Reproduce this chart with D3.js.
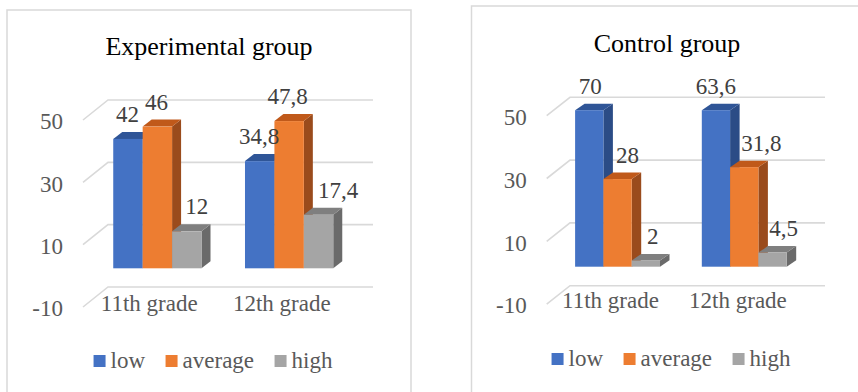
<!DOCTYPE html>
<html>
<head>
<meta charset="utf-8">
<script src="https://cdn.jsdelivr.net/npm/d3@7"></script>
<style>
  html, body { margin: 0; padding: 0; background: #ffffff; }
  svg { display: block; }
</style>
</head>
<body>
<svg id="chart" width="858" height="392"></svg>
<script>
// ---- data ----
const categories = ["11th grade", "12th grade"];
const seriesNames = ["low", "average", "high"];

const experimentalLow = [42, 34.8];
const experimentalAverage = [46, 47.8];
const experimentalHigh = [12, 17.4];

const controlLow = [70, 63.6];
const controlAverage = [28, 31.8];
const controlHigh = [2, 4.5];

const yTicks = [-10, 10, 30, 50];

// ---- styling ----
const fontStack = `"Liberation Serif", "Times New Roman", serif`;
const faceColors = ["#4472C4", "#ED7D31", "#A5A5A5"];
const topColors  = ["#2F5597", "#C0591A", "#7F7F7F"];
const sideColors = ["#2B4C86", "#9A4B1C", "#6A6A6A"];
const gridColor = "#D9D9D9";
const axisTextColor = "#595959";
const labelTextColor = "#404040";

const commaLocale = d3.formatLocale({ decimal: ",", thousands: " ", grouping: [3], currency: ["", ""] });
const fmt = commaLocale.format("~f");

// ---- panel layout ----
const panels = [
  {
    title: "Experimental group",
    series: [experimentalLow, experimentalAverage, experimentalHigh],
    frame: { x: 7, y: 10, w: 404, h: 400 },
    titleX: 209, titleY: 55,
    wallX: [83, 348], wallY: [307, 120], depth: [25, -20],
    barX: [91.5, 355], barZero: 268.3, barPx: 3.08, barDepth: [9, -7],
    tickRight: 63, catY: 311, legendY: 368, legendCx: 213,
    labelShift: [[-0.5, -1, 10], [-0.5, -1.5, 19.5]]
  },
  {
    title: "Control group",
    series: [controlLow, controlAverage, controlHigh],
    frame: { x: 471.5, y: 6, w: 400, h: 400 },
    titleX: 667, titleY: 52,
    wallX: [546.7, 801.7], wallY: [304.1, 115.7], depth: [23.3, -18.4],
    barX: [554.2, 807.6], barZero: 266.7, barPx: 3.13, barDepth: [9.5, -6.5],
    tickRight: 526.7, catY: 308, legendY: 366, legendCx: 671,
    labelShift: [[1, 10, 7], [0, 17, 11]]
  }
];

const svg = d3.select("#chart");

function label(sel) {
  return sel.style("font-family", fontStack);
}

panels.forEach(p => {
  const g = svg.append("g");

  // chart frame
  g.append("rect")
    .attr("x", p.frame.x).attr("y", p.frame.y)
    .attr("width", p.frame.w).attr("height", p.frame.h)
    .attr("fill", "#ffffff").attr("stroke", gridColor).attr("stroke-width", 1.5);

  // title
  g.append("text")
    .attr("x", p.titleX).attr("y", p.titleY)
    .attr("text-anchor", "middle")
    .attr("font-size", 26).attr("fill", "#000000")
    .call(label)
    .text(p.title);

  // value scale on the front wall plane
  const yFront = d3.scaleLinear().domain([-10, 50]).range(p.wallY);
  const [dx, dy] = p.depth;

  // gridlines: short diagonal on the side wall, then across the back wall
  g.append("g").selectAll("path").data(yTicks).join("path")
    .attr("d", t => {
      const y = yFront(t);
      return `M${p.wallX[0]},${y} L${p.wallX[0] + dx},${y + dy} L${p.wallX[1] + dx},${y + dy}`;
    })
    .attr("fill", "none").attr("stroke", gridColor).attr("stroke-width", 1.6);

  // value axis labels
  g.append("g").selectAll("text").data(yTicks).join("text")
    .attr("x", p.tickRight).attr("y", t => yFront(t) + 9.3)
    .attr("text-anchor", "end")
    .attr("font-size", 23).attr("fill", axisTextColor)
    .call(label)
    .text(t => t);

  // category axis labels on the front plane
  const xFront = d3.scaleBand().domain(categories).range(p.wallX);
  g.append("g").selectAll("text").data(categories).join("text")
    .attr("x", c => xFront(c) + xFront.bandwidth() / 2)
    .attr("y", p.catY)
    .attr("text-anchor", "middle")
    .attr("font-size", 23).attr("fill", axisTextColor)
    .call(label)
    .text(c => c);

  // bars sit on a plane partway into the depth
  const xGroup = d3.scaleBand().domain(categories).range(p.barX)
    .paddingInner(0.33).paddingOuter(0.165);
  const xSeries = d3.scaleBand().domain(seriesNames).range([0, xGroup.bandwidth()]);
  const yBar = d3.scaleLinear().domain([0, 50])
    .range([p.barZero, p.barZero - 50 * p.barPx]).clamp(true);
  const [bdx, bdy] = p.barDepth;

  const bars = [];
  categories.forEach((c, ci) => {
    seriesNames.forEach((s, si) => {
      bars.push({ c, ci, s, si, v: p.series[si][ci] });
    });
  });

  const barG = g.append("g").selectAll("g").data(bars).join("g");
  barG.each(function (d) {
    const x0 = xGroup(d.c) + xSeries(d.s);
    const x1 = x0 + xSeries.bandwidth();
    const yt = yBar(d.v);
    const yb = yBar(0);
    const sel = d3.select(this);
    // right side face
    sel.append("path")
      .attr("d", `M${x1},${yt} L${x1 + bdx},${yt + bdy} L${x1 + bdx},${yb + bdy} L${x1},${yb} Z`)
      .attr("fill", sideColors[d.si]);
    // top face
    sel.append("path")
      .attr("d", `M${x0},${yt} L${x0 + bdx},${yt + bdy} L${x1 + bdx},${yt + bdy} L${x1},${yt} Z`)
      .attr("fill", topColors[d.si]);
    // front face
    sel.append("rect")
      .attr("x", x0).attr("y", yt)
      .attr("width", x1 - x0).attr("height", yb - yt)
      .attr("fill", faceColors[d.si]);
  });

  // value labels
  g.append("g").selectAll("text").data(bars).join("text")
    .attr("x", d => xGroup(d.c) + xSeries(d.s) + xSeries.bandwidth() / 2 + p.labelShift[d.ci][d.si])
    .attr("y", d => yBar(d.v) + bdy - 10)
    .attr("text-anchor", "middle")
    .attr("font-size", 23).attr("fill", labelTextColor)
    .call(label)
    .text(d => fmt(d.v));

  // legend
  const leg = g.append("g");
  let cursor = 0;
  seriesNames.forEach((s, i) => {
    const item = leg.append("g");
    item.append("rect")
      .attr("x", 0).attr("y", p.legendY - 13)
      .attr("width", 12).attr("height", 12)
      .attr("fill", faceColors[i]);
    const t = item.append("text")
      .attr("x", 17).attr("y", p.legendY)
      .attr("font-size", 23).attr("fill", axisTextColor)
      .call(label)
      .text(s);
    const w = 17 + t.node().getComputedTextLength();
    item.attr("transform", `translate(${cursor},0)`);
    cursor += w + 20.5;
  });
  const total = cursor - 20.5;
  leg.attr("transform", `translate(${p.legendCx - total / 2},0)`);
});
</script>
</body>
</html>
